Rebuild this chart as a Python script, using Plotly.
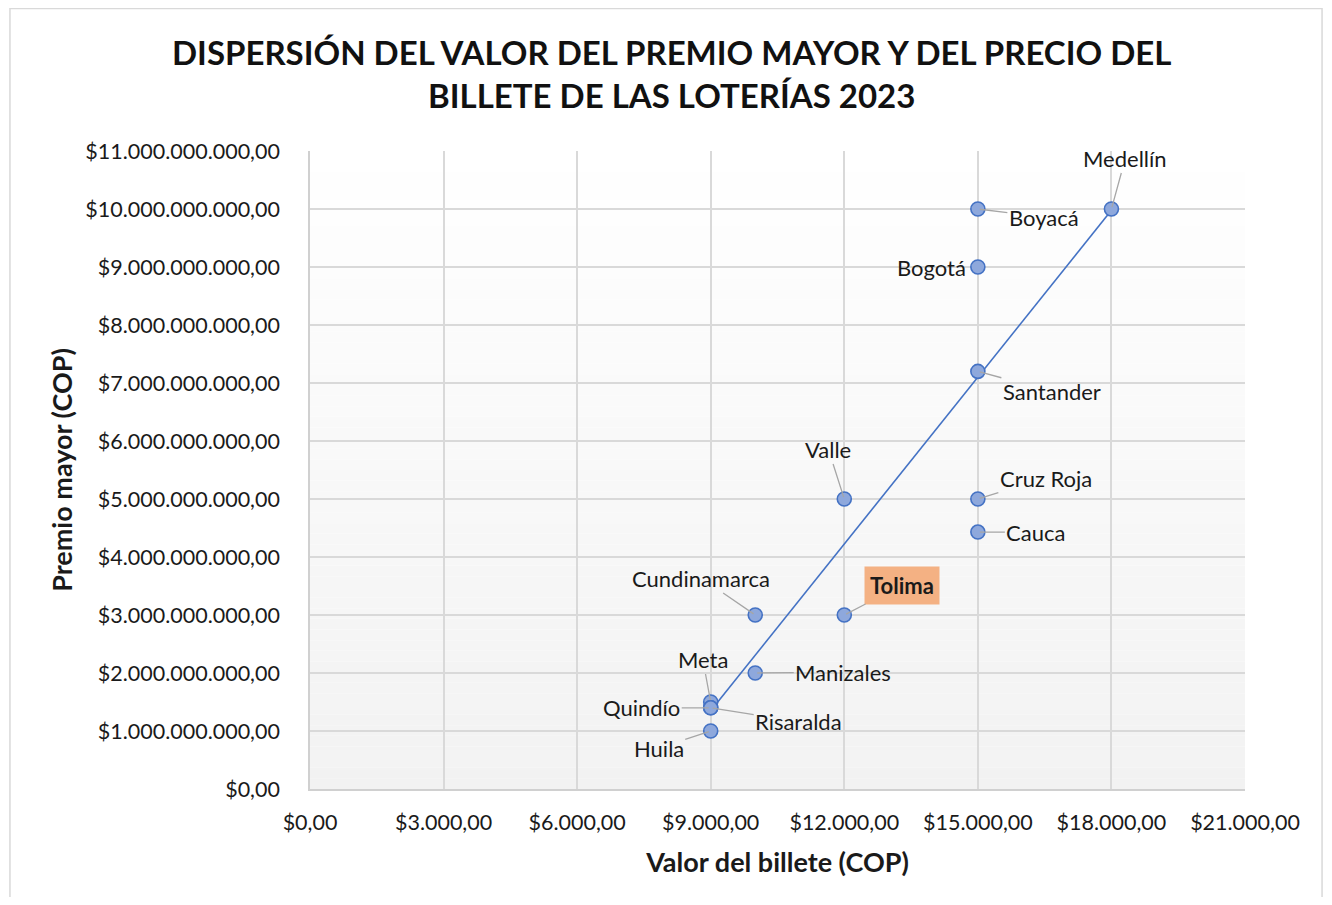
import numpy as np
import plotly.graph_objects as go

# ---- data ----
loterias = ["Medellín", "Boyacá", "Bogotá", "Santander", "Cruz Roja", "Cauca", "Valle",
            "Tolima", "Cundinamarca", "Manizales", "Meta", "Quindío", "Risaralda", "Huila"]
precio_billete = [18000, 15000, 15000, 15000, 15000, 15000, 12000,
                  12000, 10000, 10000, 9000, 9000, 9000, 9000]
premio_mayor = [10.0e9, 10.0e9, 9.0e9, 7.2e9, 5.0e9, 4.43e9, 5.0e9,
                3.0e9, 3.0e9, 2.0e9, 1.5e9, 1.4e9, 1.4e9, 1.0e9]
x_ticks = [0, 3000, 6000, 9000, 12000, 15000, 18000, 21000]
y_ticks = [i * 1e9 for i in range(12)]

# ---- style ----
FONT = "Lato"
BLUE = "#4472C4"
label_offsets = {  # pixel offsets of labels from their points
    "Medellín": (14, -51), "Boyacá": (66, 8), "Bogotá": (-46, 0), "Santander": (74, 20),
    "Cruz Roja": (68, -21), "Cauca": (58, 0), "Valle": (-16, -50), "Tolima": (58, -30),
    "Cundinamarca": (-54, -37), "Manizales": (88, -1), "Meta": (-8, -43),
    "Quindío": (-69, 0), "Risaralda": (88, 14), "Huila": (-52, 17),
}

fig = go.Figure()

# linear trend line
m, b = np.polyfit(precio_billete, premio_mayor, 1)
xt = np.array([min(precio_billete), max(precio_billete)])
fig.add_trace(go.Scatter(x=xt, y=m * xt + b, mode="lines",
                         line=dict(color=BLUE, width=1.6), hoverinfo="skip", showlegend=False))

fig.add_trace(go.Scatter(
    x=precio_billete, y=premio_mayor, mode="markers", text=loterias,
    marker=dict(size=14, color="#8EA8DC", line=dict(color=BLUE, width=1.6)),
    showlegend=False))

annotations = []
for name, xv, yv in zip(loterias, precio_billete, premio_mayor):
    ax, ay = label_offsets[name]
    a = dict(x=xv, y=yv, xref="x", yref="y", text=name, showarrow=True,
             ax=ax, ay=ay, axref="pixel", ayref="pixel",
             arrowhead=0, arrowwidth=1.3, arrowcolor="#A6A6A6", standoff=2,
             font=dict(family=FONT, size=22, color="#1a1a1a"))
    if name == "Tolima":
        a["text"] = "<b>Tolima</b>"
        a["bgcolor"] = "#F4B183"
        a["borderpad"] = 5
    if name == "Bogotá":
        a["arrowcolor"] = "rgba(0,0,0,0)"
    annotations.append(a)

# chart title
annotations.append(dict(
    text="<b>DISPERSIÓN DEL VALOR DEL PREMIO MAYOR Y DEL PRECIO DEL<br>BILLETE DE LAS LOTERÍAS 2023</b>",
    xref="paper", yref="paper", x=0.3861, y=1.1215, xanchor="center", yanchor="middle",
    showarrow=False, font=dict(family=FONT, size=33, color="#111")))

# gradient background of plot area
shapes = []
n = 60
for i in range(n):
    t = (i + 0.5) / n
    c = int(round(255 - (255 - 242) * (1 - t)))
    shapes.append(dict(type="rect", xref="paper", yref="paper", x0=0, x1=1,
                       y0=i / n, y1=(i + 1) / n, fillcolor=f"rgb({c},{c},{c})",
                       line=dict(width=0), layer="below"))
# outer chart border
shapes.append(dict(type="rect", xref="paper", yref="paper", x0=-0.3209, x1=1.0824,
                   y0=-0.2, y1=1.2233, line=dict(color="#D9D9D9", width=1.5),
                   fillcolor="rgba(0,0,0,0)", layer="below"))

fig.update_layout(
    width=1316, height=889,
    margin=dict(l=302, r=79, t=143, b=108),
    paper_bgcolor="white", plot_bgcolor="rgba(0,0,0,0)",
    separators=",.",
    font=dict(family=FONT, color="#1a1a1a"),
    annotations=annotations, shapes=shapes,
    xaxis=dict(range=[0, 21000], tickvals=x_ticks, tickformat="$,.2f",
               showgrid=True, gridcolor="#D9D9D9", gridwidth=1.5,
               showline=True, linecolor="#D0D0D0", linewidth=1.5, zeroline=False,
               ticks="", tickfont=dict(size=21.5), ticklabelstandoff=13,
               title=dict(text="<b>Valor del billete (COP)</b>", font=dict(size=27), standoff=20)),
    yaxis=dict(range=[0, 11e9], tickvals=y_ticks, tickformat="$,.2f",
               showgrid=True, gridcolor="#D9D9D9", gridwidth=1.5,
               showline=True, linecolor="#D0D0D0", linewidth=1.5, zeroline=False,
               ticks="", tickfont=dict(size=21.5), ticklabelstandoff=24,
               title=dict(text="<b>Premio mayor (COP)</b>", font=dict(size=27), standoff=5)),
)

fig.write_html("out.html")
